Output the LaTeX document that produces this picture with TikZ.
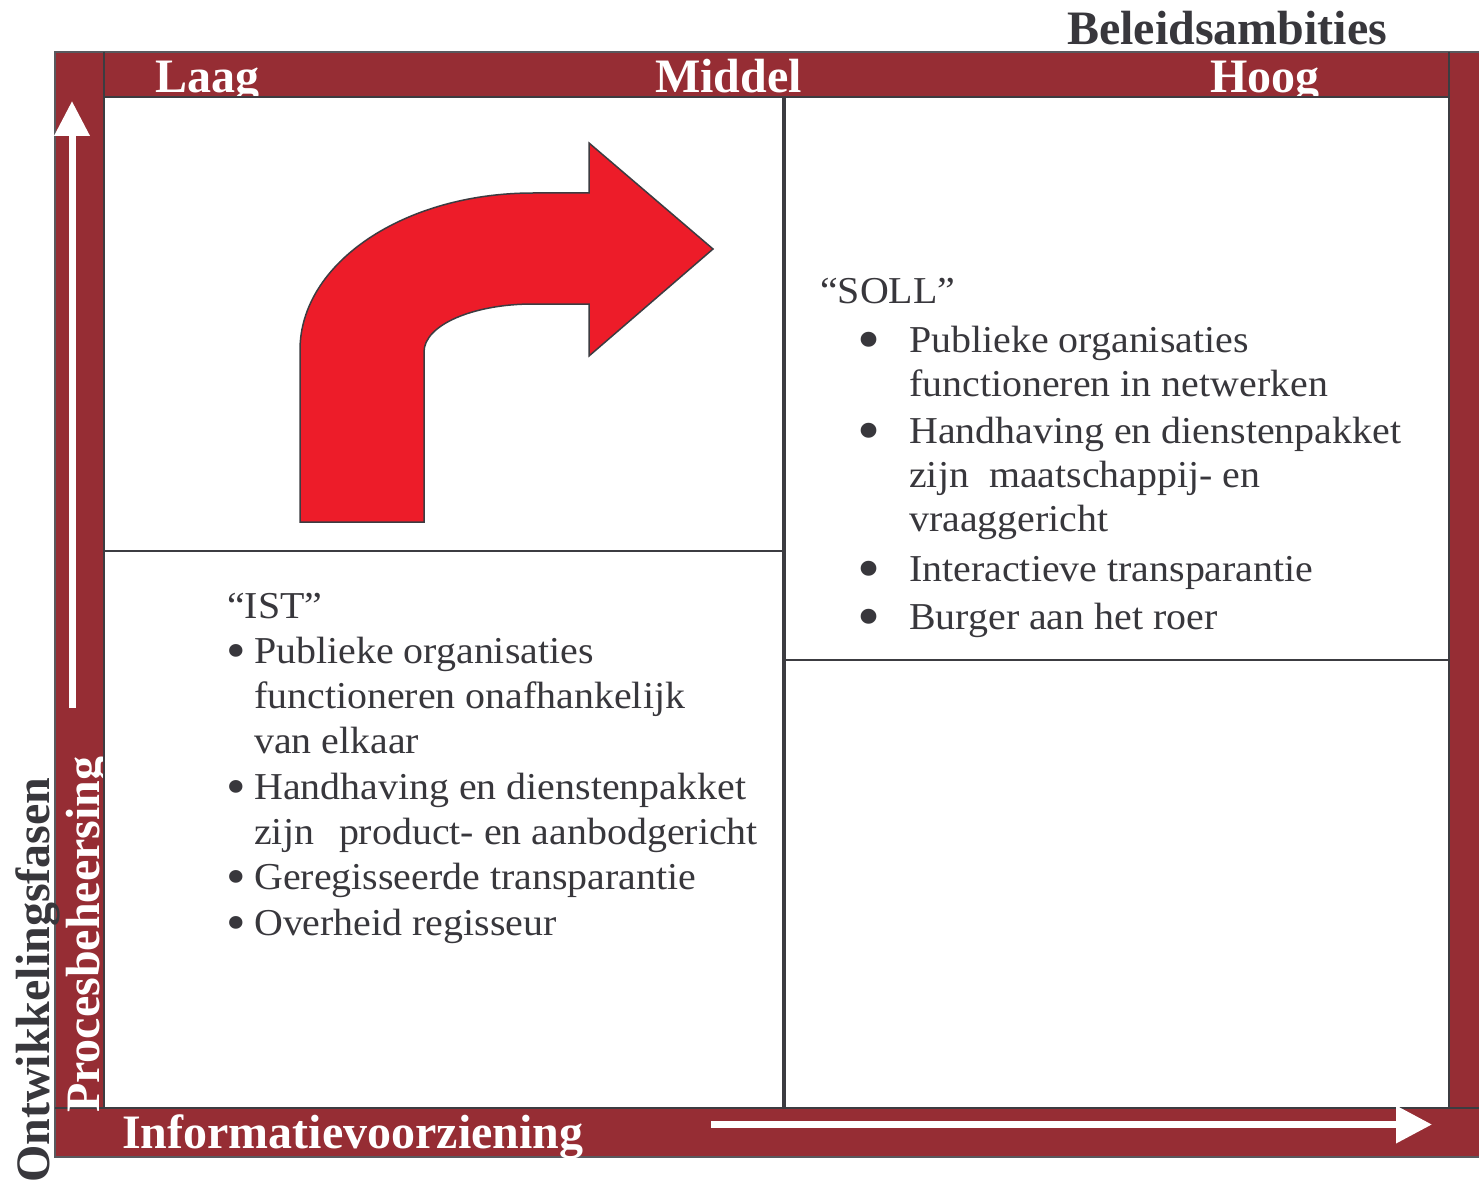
\documentclass[tikz,border=0pt]{standalone}
\usepackage{fontspec}
\setmainfont{Liberation Serif}
\newfontfamily\tekstfont{Liberation Serif}[FakeStretch=1.05]
\usepackage{xcolor}
\usepackage{graphicx}
\usepackage{tikz}
\usetikzlibrary{arrows.meta}
\definecolor{kaderrood}{HTML}{962D34}
\definecolor{donkergrijs}{HTML}{38373C}
\definecolor{pijlrood}{HTML}{ED1C29}
\definecolor{randgrijs}{HTML}{3C3C41}
% bullet: box width, scale, shift
\newcommand{\stip}[3]{\makebox[#1][c]{\raisebox{#3}{\scalebox{#2}{\textbullet}}}}

\begin{document}
\begin{tikzpicture}[x=1pt, y=-1pt,
   every node/.style={inner sep=0pt},
   kop/.style={font=\fontsize{48}{52}\selectfont\bfseries, text=white, anchor=base west},
   asnaam/.style={font=\fontsize{48}{52}\selectfont\bfseries, text=donkergrijs, anchor=base west},
   lijst/.style={text=donkergrijs, anchor=base west},
   vak/.style={fill=white, draw=randgrijs, line width=2.2pt},
   witpijl/.style={white, line width=7pt}]
   \useasboundingbox (0,0) rectangle (1479,1182);
   % Frame (always before the labels and boxes!!)
   \fill[kaderrood] (55,52) rectangle (1485,1157);
   \draw[randgrijs!85, line width=1.6pt] (55,52) rectangle (1485,1157);
   \draw[randgrijs, line width=1.6pt] (104,52) -- (104,97);
   \draw[randgrijs, line width=1.6pt] (1449,52) -- (1449,97);
   \draw[randgrijs, line width=1.6pt] (55,1108) -- (104,1108);
   \draw[randgrijs, line width=1.6pt] (1449,1108) -- (1479,1108);
   % Labels on the frame
   \node[kop] (laag) at (155,93) {Laag};
   \node[kop] (middel) at (655,93) {Middel};
   \node[kop] (hoog) at (1210,93) {Hoog};
   \node[kop] (info) at (122,1148) {Informatievoorziening};
   \node[kop, rotate=90] (proces) at (99,1113) {Procesbeheersing};
   \node[asnaam] (beleid) at (1067,45) {Beleidsambities};
   \node[asnaam, rotate=90] (ontw) at (49,1183) {Ontwikkelingsfasen};
   % Quadrants
   \draw[vak] (104,97) rectangle (783,551);
   \draw[vak] (104,551) rectangle (783,1108);
   \draw[vak] (785,97) rectangle (1449,660);
   \draw[vak] (785,660) rectangle (1449,1108);
   % Axis arrows
   \coordinate (opvoet) at (72,708);
   \coordinate (optop) at (72,101);
   \coordinate (rechtsvoet) at (711,1124.5);
   \coordinate (rechtstop) at (1432,1124.5);
   \draw[witpijl, -{Triangle[length=35pt, width=34pt]}] (opvoet) -- (optop);
   \draw[witpijl, -{Triangle[length=36pt, width=36pt]}] (rechtsvoet) -- (rechtstop);
   % Turning arrow
   \draw[fill=pijlrood, draw=randgrijs, line width=1.5pt]
      (300,522) -- (300,350) .. controls (300,263) and (404,193) .. (533,193)
      -- (589,193) -- (589,143) -- (713,249) -- (589,356) -- (589,304) -- (533,304)
      .. controls (473,304) and (424,325) .. (424,352) -- (424,522) -- cycle;
   % IST and SOLL
   \node[lijst, font=\tekstfont\fontsize{38}{45.3}\selectfont] (ist) at (227,618)
      {\begin{tabular}[t]{@{}l@{\hspace{9pt}}l@{}}
         \multicolumn{2}{@{}l@{}}{“IST”}\\
         \stip{18pt}{1.4}{-5pt} & Publieke organisaties\\
         & functioneren onafhankelijk\\
         & van elkaar\\
         \stip{18pt}{1.4}{-5pt} & Handhaving en dienstenpakket\\
         & zijn\hspace{25pt}product- en aanbodgericht\\
         \stip{18pt}{1.4}{-5pt} & Geregisseerde transparantie\\
         \stip{18pt}{1.4}{-5pt} & Overheid regisseur
       \end{tabular}};
   \node[lijst, font=\tekstfont\fontsize{38}{44}\selectfont] (soll) at (820,303)
      {\begin{tabular}[t]{@{\hspace{42pt}}l@{\hspace{33pt}}l@{}}
         \multicolumn{2}{@{}l@{}}{“SOLL”}\\[5pt]
         \stip{14pt}{1.65}{-8pt} & Publieke organisaties\\
         & functioneren in netwerken\\[3pt]
         \stip{14pt}{1.65}{-8pt} & Handhaving en dienstenpakket\\
         & zijn\hspace{20pt}maatschappij- en\\
         & vraaggericht\\[6pt]
         \stip{14pt}{1.65}{-8pt} & Interactieve transparantie\\[4pt]
         \stip{14pt}{1.65}{-8pt} & Burger aan het roer
       \end{tabular}};
\end{tikzpicture}
\end{document}
